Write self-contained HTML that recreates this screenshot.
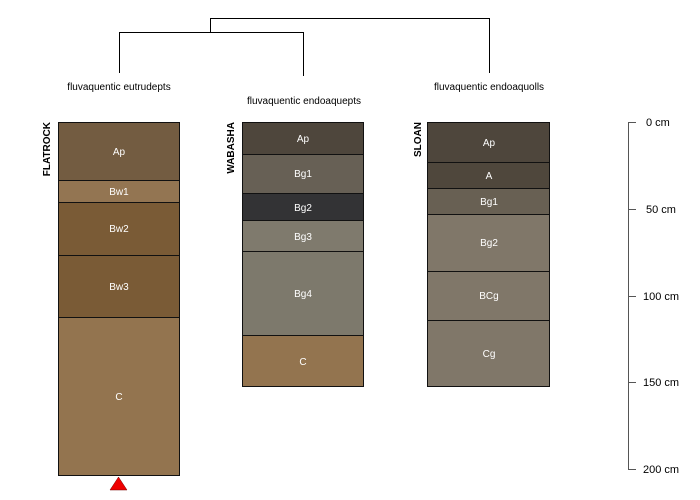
<!DOCTYPE html>
<html><head><meta charset="utf-8"><style>body{margin:0;background:#fff}svg{display:block}text{font-family:"Liberation Sans",sans-serif}</style></head><body>
<svg width="700" height="500" viewBox="0 0 700 500" xmlns="http://www.w3.org/2000/svg">
<g stroke="#000" stroke-width="1" fill="none">
<path d="M210.5 32V18.5H489.5V73"/>
<path d="M119.5 73V32.5H303.5V76"/>
</g>
<g font-size="10" fill="#000" text-anchor="middle">
<text x="119" y="90">fluvaquentic eutrudepts</text>
<text x="304" y="104">fluvaquentic endoaquepts</text>
<text x="489" y="90">fluvaquentic endoaquolls</text>
</g>
<g font-size="10" font-weight="bold" fill="#000" text-anchor="end">
<text transform="translate(50,122) rotate(-90)">FLATROCK</text>
<text transform="translate(234,122) rotate(-90)">WABASHA</text>
<text transform="translate(421,122) rotate(-90)">SLOAN</text>
</g>
<g stroke="#111" stroke-width="1">
<rect x="58.5" y="122.5" width="121" height="58" fill="#735c41"/>
<rect x="58.5" y="180.5" width="121" height="22" fill="#937552"/>
<rect x="58.5" y="202.5" width="121" height="53" fill="#7a5b36"/>
<rect x="58.5" y="255.5" width="121" height="62" fill="#7a5b36"/>
<rect x="58.5" y="317.5" width="121" height="158" fill="#93744f"/>
<rect x="242.5" y="122.5" width="121" height="32" fill="#4e463c"/>
<rect x="242.5" y="154.5" width="121" height="39" fill="#676055"/>
<rect x="242.5" y="193.5" width="121" height="27" fill="#333335"/>
<rect x="242.5" y="220.5" width="121" height="31" fill="#7f7a6d"/>
<rect x="242.5" y="251.5" width="121" height="84" fill="#7d796c"/>
<rect x="242.5" y="335.5" width="121" height="51" fill="#93744f"/>
<rect x="427.5" y="122.5" width="122" height="40" fill="#4e463c"/>
<rect x="427.5" y="162.5" width="122" height="26" fill="#4f473c"/>
<rect x="427.5" y="188.5" width="122" height="26" fill="#686053"/>
<rect x="427.5" y="214.5" width="122" height="57" fill="#807769"/>
<rect x="427.5" y="271.5" width="122" height="49" fill="#807769"/>
<rect x="427.5" y="320.5" width="122" height="66" fill="#807769"/>
</g>
<g font-size="10" fill="#fff" text-anchor="middle">
<text x="119" y="155">Ap</text><text x="119" y="195">Bw1</text><text x="119" y="232">Bw2</text><text x="119" y="290">Bw3</text><text x="119" y="400">C</text>
<text x="303" y="142">Ap</text><text x="303" y="177">Bg1</text><text x="303" y="211">Bg2</text><text x="303" y="240">Bg3</text><text x="303" y="297">Bg4</text><text x="303" y="365">C</text>
<text x="489" y="146">Ap</text><text x="489" y="179">A</text><text x="489" y="205">Bg1</text><text x="489" y="246">Bg2</text><text x="489" y="299">BCg</text><text x="489" y="357">Cg</text>
</g>
<polygon points="110,490 127,490 118.5,477" fill="#e00" stroke="#700" stroke-width="0.5"/>
<g stroke="#555" stroke-width="1">
<line x1="628.5" y1="122" x2="628.5" y2="469"/>
<line x1="628" y1="122.5" x2="636" y2="122.5"/><line x1="628" y1="209.5" x2="636" y2="209.5"/><line x1="628" y1="296.5" x2="636" y2="296.5"/><line x1="628" y1="382.5" x2="636" y2="382.5"/><line x1="628" y1="469.5" x2="636" y2="469.5"/>
</g>
<g font-size="11" fill="#000">
<text x="646" y="126">0 cm</text><text x="646" y="213">50 cm</text><text x="643" y="300">100 cm</text><text x="643" y="386">150 cm</text><text x="643" y="473">200 cm</text>
</g>
</svg>
</body></html>
